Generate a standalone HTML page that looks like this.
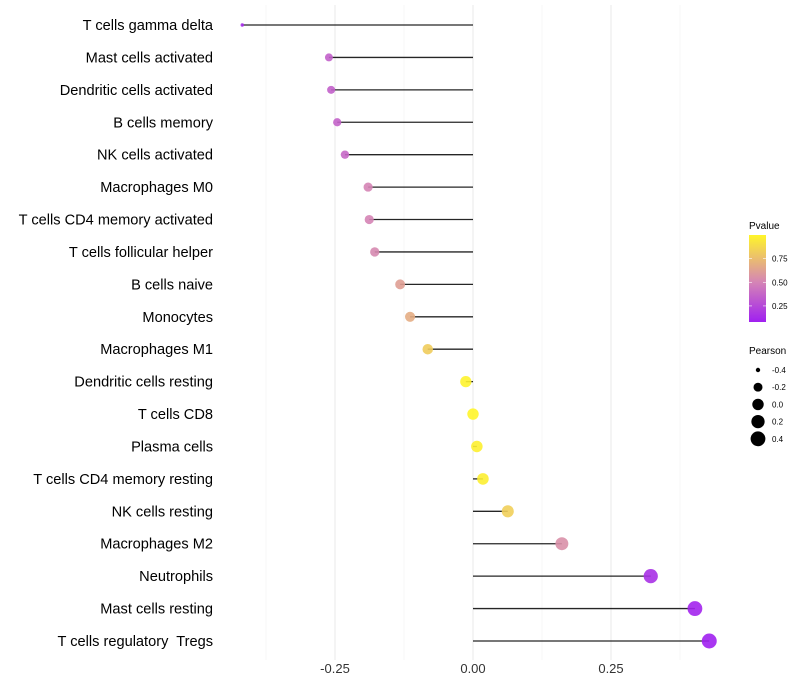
<!DOCTYPE html>
<html><head><meta charset="utf-8"><style>
body{margin:0;background:#fff;font-family:"Liberation Sans",sans-serif}
svg{display:block}
text{white-space:pre}
</style></head><body>
<svg id="c" width="800" height="700" xmlns="http://www.w3.org/2000/svg">
<defs><linearGradient id="pg" x1="0" y1="1" x2="0" y2="0">
<stop offset="0" stop-color="#a020f0"/><stop offset="0.46" stop-color="#d585b5"/><stop offset="1" stop-color="#fff52a"/>
</linearGradient></defs>
<g id="grid"></g>
<g id="marks"></g>
<g id="labels"></g>
<g id="xt"></g>
<g>
<text x="749" y="229" font-size="10" fill="#000">Pvalue</text>
<rect x="749" y="235" width="17" height="87" fill="url(#pg)"/>
<g id="pleg"></g>
</g>
<g>
<text x="749" y="354" font-size="10" fill="#000">Pearson</text>
<g id="sleg"></g>
</g>
</svg>
<script>
const cells=["T cells gamma delta","Mast cells activated","Dendritic cells activated","B cells memory","NK cells activated","Macrophages M0","T cells CD4 memory activated","T cells follicular helper","B cells naive","Monocytes","Macrophages M1","Dendritic cells resting","T cells CD8","Plasma cells","T cells CD4 memory resting","NK cells resting","Macrophages M2","Neutrophils","Mast cells resting","T cells regulatory  Tregs"];
const pearson=[-0.418,-0.261,-0.257,-0.246,-0.232,-0.190,-0.188,-0.178,-0.132,-0.114,-0.082,-0.013,0.0,0.007,0.018,0.063,0.161,0.322,0.402,0.428];
const pvals=[0.12,0.35,0.35,0.36,0.38,0.5,0.5,0.52,0.62,0.68,0.82,0.99,1.0,0.98,0.97,0.83,0.55,0.15,0.1,0.08];
const xTicks=[-0.25,0,0.25];
const xTickLabels=["-0.25","0.00","0.25"];
const pTicks=[0.25,0.5,0.75];
const sizeTicks=[-0.4,-0.2,0,0.2,0.4];
const NS="http://www.w3.org/2000/svg";
const X=v=>473+v*552;
const Y=i=>25+i*(616/19);
const R=v=>Math.max(1.2,7.5*Math.pow(Math.max(0.001,(v+0.44)/0.87),0.4));
const PY=p=>322-(p-0.08)/(0.92)*87;
function col(p){
 const t=Math.max(0,Math.min(1,(p-0.08)/0.92));
 const s=[[0,[160,32,240]],[0.46,[213,133,181]],[1,[255,245,42]]];
 let a=s[0],b=s[1]; if(t>0.46){a=s[1];b=s[2];}
 const u=(t-a[0])/(b[0]-a[0]);
 const c=a[1].map((x,k)=>Math.round(x+(b[1][k]-x)*u));
 return `rgb(${c})`;
}
function el(tag,at,parent){const e=document.createElementNS(NS,tag);for(const k in at)e.setAttribute(k,at[k]);document.getElementById(parent).appendChild(e);return e;}
[-0.375,-0.125,0.125,0.375].forEach(v=>{const l=el('line',{x1:X(v),x2:X(v),y1:5,y2:660,stroke:'#f2f2f2','stroke-width':0.6},'grid');});
xTicks.forEach((v,i)=>{const l=el('line',{x1:X(v),x2:X(v),y1:5,y2:660,stroke:'#ebebeb','stroke-width':1.1},'grid');
 const t=el('text',{x:X(v),y:673,'font-size':13,fill:'#333','text-anchor':'middle'},'xt');t.textContent=xTickLabels[i];});
cells.forEach((c,i)=>{
 const y=Y(i);
 const l=el('line',{x1:X(0),x2:X(pearson[i]),y1:y,y2:y,stroke:'#000','stroke-width':1.3,'stroke-opacity':0.85},'marks');
 
 const d=el('circle',{cx:X(pearson[i]),cy:y,r:R(pearson[i]),fill:col(pvals[i]),'fill-opacity':0.9},'marks');
 
 const t=el('text',{x:213,y:y+5,'font-size':14.6,fill:'#000','text-anchor':'end'},'labels');
 t.textContent=c;
});
pTicks.forEach(p=>{const y=PY(p);
 el('line',{x1:749,x2:752,y1:y,y2:y,stroke:'#fff','stroke-width':0.6},'pleg');el('line',{x1:763,x2:766,y1:y,y2:y,stroke:'#fff','stroke-width':0.6},'pleg');
 const t=el('text',{x:772,y:y+3,'font-size':8,fill:'#000'},'pleg');t.textContent=p.toFixed(2);});
sizeTicks.forEach((v,i)=>{const y=370+i*17.2;
 const c=el('circle',{cx:758,cy:y,r:R(v),fill:'#000'},'sleg');
 const t=el('text',{x:772,y:y+3,'font-size':8,fill:'#000'},'sleg');t.textContent=v.toFixed(1);});
</script>
</body></html>
